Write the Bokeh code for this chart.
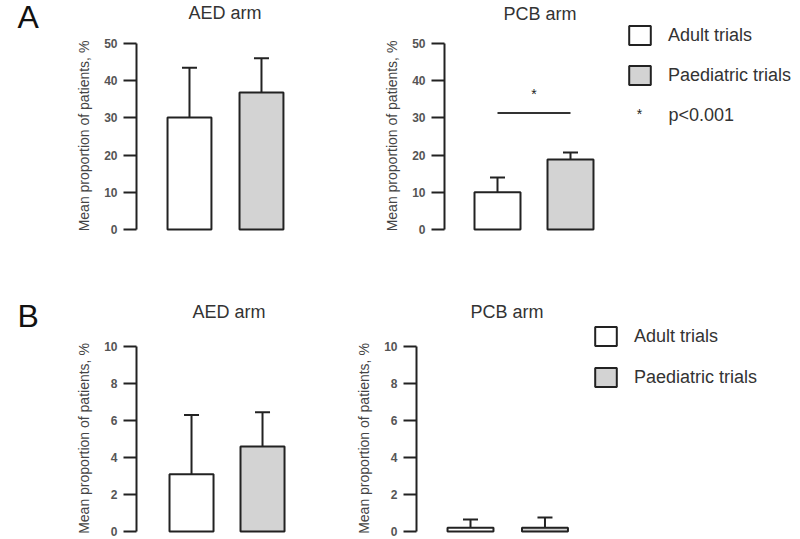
from bokeh.plotting import figure
from bokeh.models import (ColumnDataSource, Range1d, FixedTicker, Whisker, TeeHead,
                          Label, Legend, LegendItem)
from bokeh.layouts import column, row
from bokeh.embed import file_html
from bokeh.resources import INLINE

# ---------------- data ----------------
groups = ["Adult trials", "Paediatric trials"]

a_aed_mean = [30.1, 36.8]
a_aed_err = [13.4, 9.2]
a_pcb_mean = [10.0, 18.8]
a_pcb_err = [4.0, 1.9]

b_aed_mean = [3.1, 4.6]
b_aed_err = [3.2, 1.85]
b_pcb_mean = [0.2, 0.2]
b_pcb_err = [0.45, 0.56]

a_ticks = [0, 10, 20, 30, 40, 50]
b_ticks = [0, 2, 4, 6, 8, 10]

sig_line_y = 31.3
sig_star_y = 36.5
sig_text = "p<0.001"

y_title = "Mean proportion of patients, %"
arm_titles = ["AED arm", "PCB arm"]
panel_letters = ["A", "B"]

# ---------------- style ----------------
FONT = "Liberation Sans"
DARK = "#222222"
TXT = "#333333"
fills = ["#ffffff", "#d3d3d3"]


def bare_figure(width, height):
    """Figure whose frame covers the whole canvas, in pixel-like coordinates."""
    p = figure(width=width, height=height,
               x_range=Range1d(0, width), y_range=Range1d(height, 0),
               output_backend="svg", toolbar_location=None,
               x_axis_location=None, y_axis_location=None,
               min_border_left=0, min_border_right=0,
               min_border_top=0, min_border_bottom=0, title=None)
    p.grid.visible = False
    p.outline_line_color = None
    return p


def make_panel(width, height, fl, ft, fh, xr, yr, ticks, bounds):
    p = figure(width=width, height=height,
               x_range=Range1d(*xr), y_range=Range1d(*yr),
               output_backend="svg", toolbar_location=None,
               x_axis_location=None, y_axis_location="left",
               min_border_left=fl, min_border_right=0,
               min_border_top=ft, min_border_bottom=height - ft - fh,
               title=None)
    p.grid.visible = False
    p.outline_line_color = None
    ax = p.yaxis[0]
    ax.ticker = FixedTicker(ticks=ticks)
    ax.bounds = bounds
    ax.axis_label = y_title
    ax.axis_label_text_font = FONT
    ax.axis_label_text_font_size = "14px"
    ax.axis_label_text_font_style = "normal"
    ax.axis_label_text_color = "#444444"
    ax.axis_label_standoff = 9
    ax.major_label_text_font = FONT
    ax.major_label_text_font_size = "12px"
    ax.major_label_text_font_style = "bold"
    ax.major_label_text_color = "#555555"
    ax.major_label_standoff = 6
    ax.axis_line_color = DARK
    ax.axis_line_width = 2
    ax.major_tick_line_color = DARK
    ax.major_tick_line_width = 2
    ax.major_tick_out = 13
    ax.major_tick_in = 0
    ax.minor_tick_line_color = None
    return p


def bar_source(means, errs):
    return ColumnDataSource(dict(
        x=list(range(len(groups))), top=means,
        upper=[m + e for m, e in zip(means, errs)],
        fill=fills, label=groups))


def draw_bars(p, means, errs, width):
    src = bar_source(means, errs)
    r = p.vbar(x="x", top="top", bottom=0, width=width, source=src,
               fill_color="fill", line_color=DARK, line_width=2)
    w = Whisker(source=src, base="x", lower="top", upper="upper",
                line_color=DARK, line_width=2, lower_head=None,
                upper_head=TeeHead(size=15, line_color=DARK, line_width=2))
    p.add_layout(w)
    return r


def add_text(p, x, y, text, size, color=TXT, align="left"):
    p.add_layout(Label(x=x, y=y, text=text, text_font=FONT, text_font_size=size,
                       text_color=color, text_align=align,
                       text_baseline="middle"))


def make_legend_fig(width, height, loc, spacing, means, errs):
    p = bare_figure(width, height)
    # key renderer: carries the group styling, muted (invisible) in the plot area
    key = p.vbar(x="x", top="top", bottom=0, width=0.5, source=bar_source(means, errs),
                 fill_color="fill", line_color=DARK, line_width=2,
                 muted_fill_alpha=0, muted_line_alpha=0)
    key.muted = True
    items = [LegendItem(label=g, renderers=[key], index=i) for i, g in enumerate(groups)]
    leg = Legend(items=items, location=loc, orientation="vertical",
                 glyph_width=27, glyph_height=24, label_height=24,
                 label_standoff=15, spacing=spacing, padding=0, margin=0,
                 border_line_color=None, background_fill_alpha=0,
                 label_text_font=FONT, label_text_font_size="18px",
                 label_text_color=TXT, click_policy="none")
    p.add_layout(leg)
    return p


# ---------------- row A (page y 0..262) ----------------
headA = bare_figure(600, 36)
add_text(headA, 17, 16.5, panel_letters[0], "32px", color="#111111")
add_text(headA, 188, 12.5, arm_titles[0], "18px")
add_text(headA, 503, 13.5, arm_titles[1], "18px")

yrA = (-1.075, 51.34)
pA1 = make_panel(300, 226, 136, 2, 195, (-0.736, 1.542), yrA, a_ticks, (0, 50))
draw_bars(pA1, a_aed_mean, a_aed_err, 0.61)

pA2 = make_panel(300, 226, 144, 2, 195, (-0.726, 1.411), yrA, a_ticks, (0, 50))
draw_bars(pA2, a_pcb_mean, a_pcb_err, 0.63)
pA2.segment(x0=[0], x1=[len(groups) - 1], y0=[sig_line_y], y1=[sig_line_y],
            line_color=TXT, line_width=2)
pA2.add_layout(Label(x=(len(groups) - 1) / 2, y=sig_star_y, text="*", text_font=FONT,
                     text_font_size="14px", text_color=DARK,
                     text_align="center", text_baseline="middle"))

legA = make_legend_fig(200, 262, (26, 175), 16, a_pcb_mean, a_pcb_err)
add_text(legA, 39, 113, "*", "14px", color=DARK, align="center")
add_text(legA, 68, 114, sig_text, "18px")

rowA = row(column(headA, row(pA1, pA2)), legA)

# ---------------- row B (page y 262..539) ----------------
headB = bare_figure(580, 72)
add_text(headB, 17, 53, panel_letters[1], "32px", color="#111111")
add_text(headB, 192, 49.5, arm_titles[0], "18px")
add_text(headB, 470, 49.5, arm_titles[1], "18px")

yrB = (-0.162, 10.216)
pB1 = make_panel(300, 205, 136, 8, 192, (-0.775, 1.535), yrB, b_ticks, (0, 10))
draw_bars(pB1, b_aed_mean, b_aed_err, 0.62)

pB2 = make_panel(280, 205, 116, 8, 192, (-0.725, 1.477), yrB, b_ticks, (0, 10))
draw_bars(pB2, b_pcb_mean, b_pcb_err, 0.617)

legB = make_legend_fig(220, 277, (12, 150), 17, b_pcb_mean, b_pcb_err)

rowB = row(column(headB, row(pB1, pB2)), legB)

layout = column(rowA, rowB)

open("out.html", "w").write(file_html(layout, INLINE))
